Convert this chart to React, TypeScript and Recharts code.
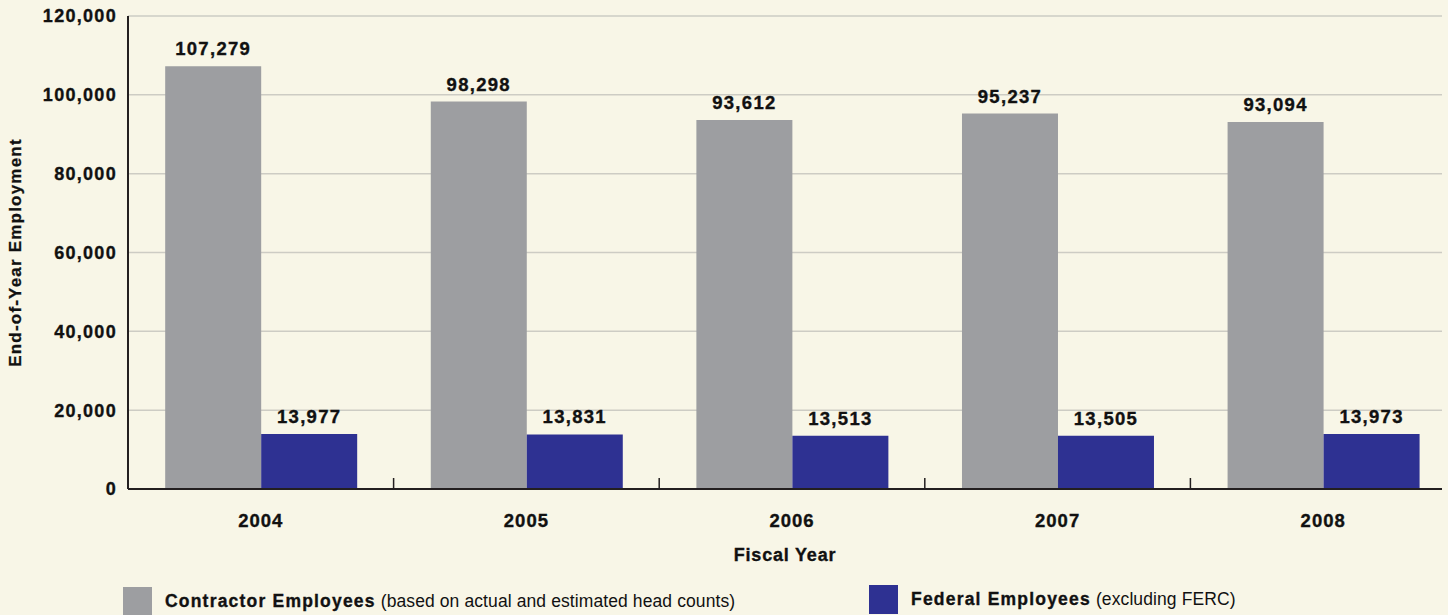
import { Bar, BarChart, CartesianGrid, LabelList, XAxis, YAxis } from "recharts";

const years = ["2004", "2005", "2006", "2007", "2008"];
const contractorEmployees = [107279, 98298, 93612, 95237, 93094];
const federalEmployees = [13977, 13831, 13513, 13505, 13973];
const yTicks = [0, 20000, 40000, 60000, 80000, 100000, 120000];

const seriesKeys = ["contractor", "federal"];
const seriesNames = ["Contractor Employees", "Federal Employees"];
const seriesNotes = ["(based on actual and estimated head counts)", "(excluding FERC)"];
const seriesColors = ["#9d9ea1", "#2e3192"];

const BG = "#f8f6e7";
const FONT = "'Liberation Sans', Arial, Helvetica, sans-serif";
const INK = "#111";

const data = years.map((year, i) => ({
  year,
  contractor: contractorEmployees[i],
  federal: federalEmployees[i],
}));

const fmt = (v: number) => Number(v).toLocaleString("en-US");

function YearTick(props: any) {
  const { x, y, payload, index } = props;
  const boundary = x + (payload?.offset ?? 0);
  return (
    <g>
      <text
        x={x}
        y={y + 38}
        textAnchor="middle"
        fontFamily={FONT}
        fontWeight="bold"
        fontSize={18.5}
        letterSpacing={1}
        fill={INK}
        stroke={INK}
        strokeWidth={0.35}
      >
        {payload.value}
      </text>
      {index < years.length - 1 ? (
        <line x1={boundary} x2={boundary} y1={y - 11} y2={y} stroke="#231f20" strokeWidth={1.5} />
      ) : null}
    </g>
  );
}

export default function App() {
  return (
    <div style={{ position: "absolute", left: 0, top: 0, width: 1448, height: 615, background: BG, overflow: "hidden" }}>
      <BarChart
        width={1448}
        height={615}
        data={data}
        margin={{ top: 16, right: 6, bottom: 56, left: 0 }}
        barCategoryGap="14%"
        barGap={0}
      >
        <CartesianGrid vertical={false} stroke="#cdccc4" strokeWidth={1.5} />
        <XAxis
          dataKey="year"
          padding={{ left: 0, right: -14 }}
          height={70}
          tickLine={false}
          tickSize={0}
          tickMargin={0}
          tick={<YearTick />}
          axisLine={{ stroke: "#231f20", strokeWidth: 2 }}
          label={{
            content: (p: any) => {
              const vb = p.viewBox;
              return (
                <text
                  x={vb.x + vb.width / 2}
                  y={561}
                  textAnchor="middle"
                  fontFamily={FONT}
                  fontWeight="bold"
                  fontSize={18}
                  letterSpacing={0.8}
                  fill={INK}
                  stroke={INK}
                  strokeWidth={0.35}
                >
                  Fiscal Year
                </text>
              );
            },
          }}
        />
        <YAxis
          width={128}
          domain={[0, 120000]}
          ticks={yTicks}
          interval={0}
          tickFormatter={fmt}
          tickLine={false}
          tickSize={0}
          tickMargin={11}
          axisLine={{ stroke: "#231f20", strokeWidth: 2 }}
          tick={{
            fontFamily: FONT,
            fontWeight: "bold",
            fontSize: 18,
            letterSpacing: 1.3,
            fill: INK,
            stroke: INK,
            strokeWidth: 0.35,
          }}
          label={{
            content: (p: any) => {
              const vb = p.viewBox;
              const cx = vb.x + 15;
              const cy = vb.y + vb.height / 2;
              return (
                <text
                  x={cx}
                  y={cy}
                  transform={`rotate(-90 ${cx} ${cy})`}
                  textAnchor="middle"
                  dominantBaseline="central"
                  fontFamily={FONT}
                  fontWeight="bold"
                  fontSize={17}
                  letterSpacing={1.2}
                  fill={INK}
                  stroke={INK}
                  strokeWidth={0.3}
                >
                  End-of-Year Employment
                </text>
              );
            },
          }}
        />
        {seriesKeys.map((key, i) => (
          <Bar key={key} dataKey={key} name={seriesNames[i]} fill={seriesColors[i]} isAnimationActive={false}>
            <LabelList
              dataKey={key}
              position="top"
              offset={11}
              formatter={(v: any) => fmt(v)}
              style={{
                fontFamily: FONT,
                fontWeight: "bold",
                fontSize: 18.5,
                letterSpacing: 1.3,
                fill: INK,
                stroke: INK,
                strokeWidth: 0.35,
              }}
            />
          </Bar>
        ))}
      </BarChart>
      {seriesNames.map((name, i) => (
        <div
          key={name}
          style={{
            position: "absolute",
            left: i === 0 ? 123 : 869,
            top: i === 0 ? 587 : 585,
            display: "flex",
            alignItems: "center",
            fontFamily: FONT,
            fontSize: 17.5,
            color: INK,
            whiteSpace: "nowrap",
          }}
        >
          <span style={{ display: "inline-block", width: 29, height: 29, background: seriesColors[i], marginRight: 13 }} />
          <span style={{ fontWeight: "bold", letterSpacing: 1.2, WebkitTextStroke: "0.35px #111" }}>{name}</span>
          <span style={{ letterSpacing: 0.1, marginLeft: 5 }}>{seriesNotes[i]}</span>
        </div>
      ))}
    </div>
  );
}
